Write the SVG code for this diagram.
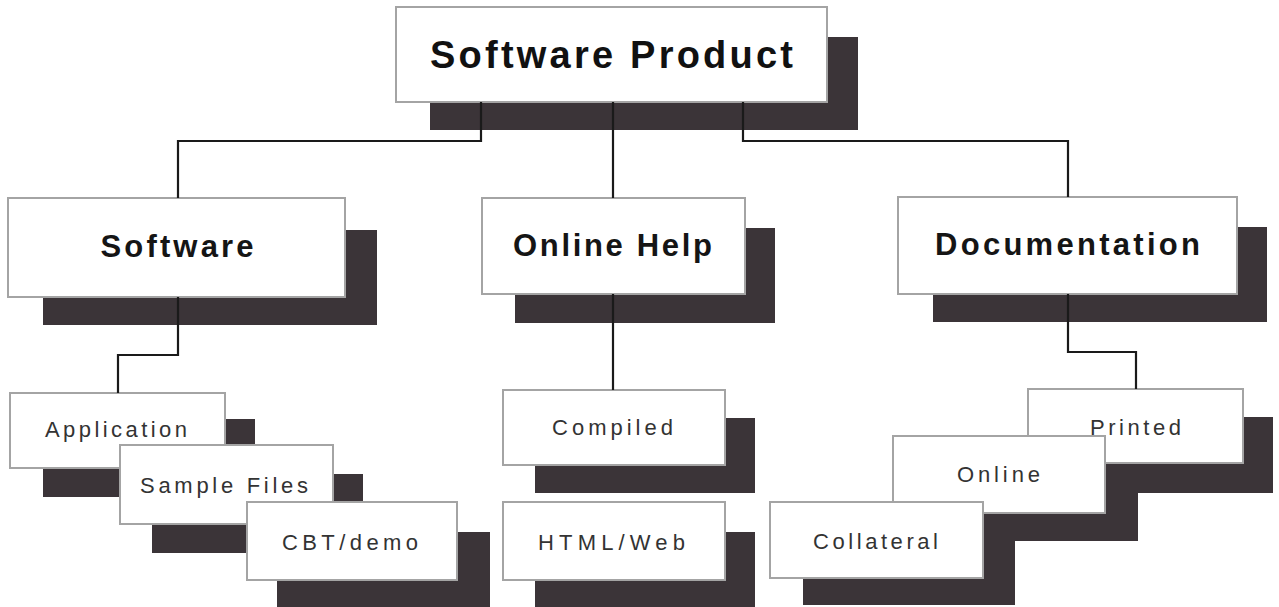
<svg xmlns="http://www.w3.org/2000/svg" width="1279" height="607" viewBox="0 0 1279 607">
<style>
.sh{fill:#3b3438}
.bx{fill:#fff;stroke:#a4a4a4;stroke-width:2}
.t1{font-family:"Liberation Sans",Arial,sans-serif;font-weight:bold;font-size:38px;fill:#111;text-anchor:middle}
.t2{font-family:"Liberation Sans",Arial,sans-serif;font-weight:bold;font-size:31px;fill:#151515;text-anchor:middle}
.t3{font-family:"Liberation Sans",Arial,sans-serif;font-size:22px;fill:#333;text-anchor:middle}
.c{fill:none;stroke:#1a1a1a;stroke-width:2.2}
</style>
<rect width="1279" height="607" fill="#fff"/>
<g id="n-product">
<rect class="sh" x="430" y="37" width="428" height="93"/>
<rect class="bx" x="396" y="7" width="431" height="95"/>
<text class="t1" x="611.5" y="68" textLength="363" lengthAdjust="spacing">Software Product</text>
</g>
<g id="n-software">
<rect class="sh" x="43" y="230" width="334" height="95"/>
<rect class="bx" x="8" y="198" width="337" height="99"/>
<text class="t2" x="177" y="257" textLength="153" lengthAdjust="spacing">Software</text>
</g>
<g id="n-onlinehelp">
<rect class="sh" x="515" y="228" width="260" height="95"/>
<rect class="bx" x="482" y="198" width="263" height="96"/>
<text class="t2" x="612.5" y="256" textLength="199" lengthAdjust="spacing">Online Help</text>
</g>
<g id="n-documentation">
<rect class="sh" x="933" y="227" width="334" height="95"/>
<rect class="bx" x="898" y="197" width="339" height="97"/>
<text class="t2" x="1067.5" y="255" textLength="265" lengthAdjust="spacing">Documentation</text>
</g>
<g id="n-application">
<rect class="sh" x="43" y="419" width="212" height="78"/>
<rect class="bx" x="10" y="393" width="215" height="75"/>
<text class="t3" x="116" y="437" textLength="142" lengthAdjust="spacing">Application</text>
</g>
<g id="n-samplefiles">
<rect class="sh" x="152" y="474" width="211" height="79"/>
<rect class="bx" x="120" y="445" width="213" height="79"/>
<text class="t3" x="224" y="493" textLength="168" lengthAdjust="spacing">Sample Files</text>
</g>
<g id="n-cbtdemo">
<rect class="sh" x="277" y="532" width="213" height="78"/>
<rect class="bx" x="247" y="502" width="210" height="78"/>
<text class="t3" x="350" y="550" textLength="136" lengthAdjust="spacing">CBT/demo</text>
</g>
<g id="n-compiled">
<rect class="sh" x="535" y="418" width="220" height="75"/>
<rect class="bx" x="503" y="390" width="222" height="75"/>
<text class="t3" x="612.5" y="435" textLength="121" lengthAdjust="spacing">Compiled</text>
</g>
<g id="n-htmlweb">
<rect class="sh" x="535" y="532" width="220" height="78"/>
<rect class="bx" x="503" y="502" width="222" height="78"/>
<text class="t3" x="611.5" y="550" textLength="147" lengthAdjust="spacing">HTML/Web</text>
</g>
<g id="n-printed">
<rect class="sh" x="1060" y="417" width="213" height="76"/>
<rect class="bx" x="1028" y="389" width="215" height="74"/>
<text class="t3" x="1135.5" y="435" textLength="91" lengthAdjust="spacing">Printed</text>
</g>
<g id="n-online">
<rect class="sh" x="926" y="464" width="212" height="77"/>
<rect class="bx" x="893" y="436" width="212" height="77"/>
<text class="t3" x="998.5" y="482" textLength="83" lengthAdjust="spacing">Online</text>
</g>
<g id="n-collateral">
<rect class="sh" x="803" y="530" width="212" height="75"/>
<rect class="bx" x="770" y="502" width="213" height="76"/>
<text class="t3" x="875.5" y="549" textLength="125" lengthAdjust="spacing">Collateral</text>
</g>
<g id="connectors">
<path class="c" d="M481,102 V141 H178 V198"/>
<path class="c" d="M613,102 V198"/>
<path class="c" d="M743,102 V141 H1068 V197"/>
<path class="c" d="M178,297 V355 H118 V393"/>
<path class="c" d="M613,294 V390"/>
<path class="c" d="M1068,294 V352 H1136 V389"/>
</g>
</svg>
